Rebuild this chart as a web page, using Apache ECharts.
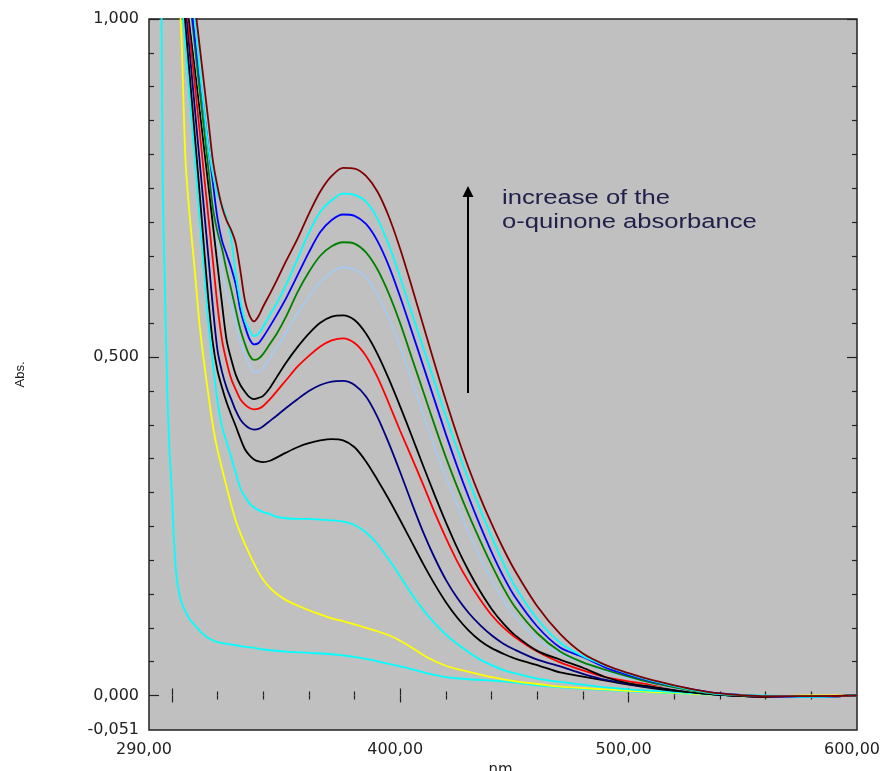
<!DOCTYPE html>
<html><head><meta charset="utf-8">
<script src="https://cdn.jsdelivr.net/npm/echarts@6/dist/echarts.min.js"></script>
<style>html,body{margin:0;padding:0;background:#fff}#c{width:885px;height:771px}</style>
</head><body><div id="c"></div>
<script>
// Wavelength grid (nm) shared by the 11 upper curves
const wavelengths = [294,296,298,300,302,304,306,308,310,312,314,316,318,320,322,324,326,328,330,332,334,336,338,340,343,346,350,355,360,365,370,375,380,385,390,395,400,405,410,415,420,425,430,435,440,445,450,460,470,480,490,500,510,520,530,540,560,580,600];

const absMaroon = [1.49,1.43,1.37,1.313,1.255,1.197,1.139,1.081,1.023,0.965,0.907,0.849,0.79,0.752,0.722,0.702,0.688,0.668,0.628,0.584,0.562,0.553,0.561,0.575,0.594,0.614,0.642,0.675,0.712,0.745,0.768,0.780,0.779,0.768,0.745,0.708,0.660,0.605,0.548,0.491,0.436,0.384,0.336,0.293,0.254,0.218,0.186,0.132,0.091,0.062,0.045,0.033,0.023,0.015,0.008,0.003,-0.001,-0.001,0.000];
const absCyanTop = [1.52,1.46,1.40,1.33,1.26,1.19,1.12,1.06,1.00,0.93,0.87,0.81,0.77,0.74,0.725,0.705,0.675,0.622,0.582,0.554,0.540,0.531,0.535,0.545,0.563,0.580,0.607,0.645,0.684,0.715,0.732,0.742,0.740,0.730,0.705,0.666,0.618,0.566,0.515,0.464,0.413,0.364,0.318,0.275,0.235,0.197,0.163,0.113,0.078,0.058,0.044,0.032,0.022,0.014,0.007,0.002,0.000,-0.002,0.000];
const absBlue = [1.48,1.42,1.36,1.30,1.24,1.17,1.09,1.03,0.975,0.92,0.866,0.81,0.757,0.705,0.672,0.652,0.632,0.607,0.570,0.546,0.527,0.519,0.521,0.530,0.546,0.563,0.587,0.621,0.655,0.685,0.703,0.711,0.709,0.697,0.672,0.635,0.589,0.539,0.488,0.437,0.386,0.338,0.293,0.251,0.212,0.177,0.147,0.102,0.071,0.057,0.041,0.030,0.021,0.014,0.008,0.003,-0.001,-0.002,0.000];
const absGreen = [1.50,1.40,1.33,1.26,1.19,1.13,1.08,1.025,0.963,0.90,0.84,0.778,0.72,0.685,0.66,0.628,0.60,0.57,0.541,0.52,0.503,0.496,0.498,0.505,0.520,0.535,0.560,0.596,0.626,0.650,0.664,0.670,0.668,0.655,0.630,0.594,0.550,0.500,0.450,0.400,0.352,0.308,0.267,0.229,0.193,0.160,0.132,0.092,0.065,0.049,0.038,0.028,0.019,0.012,0.006,0.002,-0.001,-0.001,0.000];
const absLightBlue = [1.45,1.38,1.31,1.24,1.17,1.11,1.06,1.005,0.95,0.894,0.838,0.78,0.727,0.675,0.628,0.594,0.575,0.55,0.522,0.503,0.488,0.478,0.478,0.485,0.499,0.515,0.536,0.565,0.589,0.611,0.626,0.633,0.630,0.618,0.593,0.558,0.515,0.466,0.416,0.368,0.323,0.281,0.241,0.204,0.171,0.142,0.118,0.083,0.062,0.048,0.036,0.026,0.018,0.011,0.006,0.002,-0.001,-0.002,0.000];
const absBlackUpper = [1.40,1.34,1.28,1.22,1.164,1.105,1.047,0.988,0.93,0.871,0.812,0.754,0.695,0.636,0.578,0.525,0.497,0.474,0.459,0.449,0.441,0.438,0.440,0.443,0.455,0.471,0.492,0.515,0.535,0.551,0.560,0.562,0.555,0.535,0.505,0.468,0.427,0.384,0.340,0.297,0.256,0.218,0.184,0.154,0.128,0.107,0.090,0.066,0.053,0.041,0.027,0.018,0.013,0.008,0.004,0.001,-0.002,-0.002,0.000];
const absRed = [1.43,1.365,1.30,1.234,1.168,1.10,1.036,0.97,0.905,0.84,0.773,0.707,0.642,0.576,0.525,0.493,0.468,0.452,0.438,0.430,0.425,0.423,0.424,0.428,0.438,0.450,0.466,0.486,0.502,0.516,0.525,0.528,0.521,0.502,0.471,0.432,0.391,0.352,0.312,0.271,0.233,0.198,0.168,0.142,0.119,0.101,0.087,0.065,0.049,0.037,0.027,0.021,0.016,0.011,0.006,0.002,-0.002,-0.002,0.000];
const absNavy = [1.35,1.29,1.24,1.19,1.14,1.09,1.02,0.944,0.87,0.796,0.722,0.648,0.573,0.51,0.478,0.455,0.438,0.421,0.408,0.400,0.395,0.393,0.394,0.398,0.406,0.414,0.425,0.438,0.450,0.459,0.464,0.465,0.459,0.442,0.412,0.373,0.330,0.285,0.242,0.204,0.171,0.144,0.122,0.104,0.089,0.077,0.068,0.053,0.043,0.032,0.023,0.017,0.012,0.008,0.004,0.001,-0.002,-0.002,0.000];
const absBlackLower = [1.40,1.36,1.30,1.23,1.15,1.073,0.99,0.91,0.83,0.75,0.666,0.585,0.52,0.48,0.455,0.433,0.415,0.398,0.380,0.364,0.355,0.349,0.346,0.345,0.347,0.352,0.359,0.367,0.373,0.377,0.379,0.377,0.367,0.346,0.319,0.290,0.259,0.227,0.195,0.165,0.138,0.115,0.096,0.081,0.070,0.062,0.055,0.045,0.034,0.028,0.022,0.016,0.011,0.007,0.004,0.001,-0.002,-0.002,0.000];
const absCyanMid = [1.40,1.33,1.25,1.18,1.12,1.04,0.96,0.878,0.797,0.715,0.634,0.552,0.49,0.435,0.397,0.375,0.352,0.329,0.306,0.294,0.284,0.278,0.274,0.271,0.268,0.264,0.262,0.261,0.261,0.260,0.259,0.257,0.252,0.241,0.224,0.201,0.176,0.150,0.127,0.107,0.090,0.076,0.064,0.053,0.045,0.038,0.033,0.025,0.020,0.016,0.012,0.009,0.007,0.005,0.003,0.001,-0.001,-0.002,0.000];
const absYellow = [1.60,1.45,1.30,1.18,1.08,0.99,0.79,0.702,0.63,0.553,0.495,0.445,0.398,0.363,0.335,0.308,0.282,0.258,0.240,0.224,0.209,0.195,0.182,0.171,0.159,0.150,0.141,0.133,0.126,0.120,0.114,0.110,0.105,0.100,0.095,0.089,0.081,0.071,0.060,0.051,0.044,0.039,0.035,0.031,0.027,0.024,0.021,0.017,0.013,0.011,0.009,0.007,0.005,0.004,0.002,0.001,-0.001,0.000,0.000];

// Lowest cyan curve has its own, finer wavelength grid at the steep start
const wavelengthsLowCyan = [294,295.5,296,297,298,299,300,301,302,303,304,306,308,310,313,316,320,325,330,335,340,350,360,370,378,385,392,400,406,413,420,430,445,460,470,485,500,515,530,545,560,580,600];
const absLowCyan = [1.6,1.0,0.76,0.60,0.45,0.36,0.30,0.225,0.178,0.155,0.140,0.124,0.112,0.104,0.093,0.085,0.079,0.076,0.073,0.071,0.068,0.065,0.063,0.061,0.058,0.054,0.049,0.043,0.038,0.032,0.027,0.024,0.021,0.015,0.012,0.009,0.006,0.004,0.002,0.000,-0.001,-0.002,0.000];

// Axis ticks and labels
const xLabelValues = [290, 400, 500, 600];
const xMajorTicks = [300, 400, 500];
const xMinorTicks = [320, 340, 360, 380, 420, 440, 460, 480, 520, 540, 560, 580];
const yLabelValues = [-0.051, 0, 0.5, 1.0];
const yMajorTicks = [0, 0.5, 1.0];
const yMinorTicks = [0.05,0.1,0.15,0.2,0.25,0.3,0.35,0.4,0.45,0.55,0.6,0.65,0.7,0.75,0.8,0.85,0.9,0.95];

const X_MIN = 290, X_MAX = 600, Y_MIN = -0.051, Y_MAX = 1.0;

const curves = [
  { name: 'c12', wl: wavelengthsLowCyan, v: absLowCyan, color: '#00ffff' },
  { name: 'c11', wl: wavelengths, v: absYellow, color: '#ffff00' },
  { name: 'c10', wl: wavelengths, v: absCyanMid, color: '#00ffff' },
  { name: 'c9', wl: wavelengths, v: absBlackLower, color: '#000000' },
  { name: 'c8', wl: wavelengths, v: absNavy, color: '#000080' },
  { name: 'c7', wl: wavelengths, v: absRed, color: '#ff0000' },
  { name: 'c6', wl: wavelengths, v: absBlackUpper, color: '#000000' },
  { name: 'c5', wl: wavelengths, v: absLightBlue, color: '#a6caf0' },
  { name: 'c4', wl: wavelengths, v: absGreen, color: '#008000' },
  { name: 'c3', wl: wavelengths, v: absBlue, color: '#0000ff' },
  { name: 'c2', wl: wavelengths, v: absCyanTop, color: '#00ffff' },
  { name: 'c1', wl: wavelengths, v: absMaroon, color: '#800000' }
];

const fmtX = v => v.toFixed(2).replace('.', ',');
const fmtY = v => v.toFixed(3).replace('.', ',');
const labelFont = { fontFamily: 'DejaVu Sans', fontSize: 16, color: '#222' };
const tickLine = { color: '#222', width: 1.2 };

function xAx(grid, pos, ticks, len, labels, extra) {
  return Object.assign({
    type: 'value', gridIndex: grid, position: pos, min: X_MIN, max: X_MAX,
    axisLine: { show: false }, splitLine: { show: false },
    axisTick: { show: true, inside: true, length: len, customValues: ticks, lineStyle: tickLine },
    axisLabel: labels ? Object.assign({ show: true, customValues: labels, formatter: fmtX, margin: 12, padding: [0, 10, 0, 0] }, labelFont) : { show: false }
  }, extra || {});
}
function yAx(grid, pos, ticks, len, labels, extra) {
  return Object.assign({
    type: 'value', gridIndex: grid, position: pos, min: Y_MIN, max: Y_MAX,
    axisLine: { show: false }, splitLine: { show: false },
    axisTick: { show: true, inside: true, length: len, customValues: ticks, lineStyle: tickLine },
    axisLabel: labels ? Object.assign({ show: true, customValues: labels, formatter: fmtY, margin: 10 }, labelFont) : { show: false }
  }, extra || {});
}

const gridRect = { left: 149, right: 28, top: 19, bottom: 41, containLabel: false, outerBoundsMode: 'none' };

const chart = echarts.init(document.getElementById('c'));
chart.setOption({
  animation: false,
  backgroundColor: '#ffffff',
  grid: [
    Object.assign({ show: true, backgroundColor: '#c0c0c0', borderColor: '#222', borderWidth: 1.5 }, gridRect),
    Object.assign({ show: false }, gridRect)
  ],
  xAxis: [
    xAx(0, 'bottom', xMajorTicks, 7, xLabelValues, {
      name: 'nm.', nameLocation: 'middle', nameGap: 30,
      nameTextStyle: { fontFamily: 'DejaVu Sans', fontSize: 15, color: '#222' }
    }),
    xAx(0, 'top', xMajorTicks, 7, null),
    xAx(1, 'bottom', xMinorTicks, 4, null),
    xAx(1, 'top', xMinorTicks, 4, null)
  ],
  yAxis: [
    yAx(0, 'left', yMajorTicks, 10, yLabelValues, {
      name: 'Abs.', nameLocation: 'middle', nameRotate: 90, nameGap: 122,
      nameTextStyle: { fontFamily: 'Liberation Sans', fontSize: 13, color: '#222' }
    }),
    yAx(0, 'right', yMajorTicks, 10, null),
    yAx(1, 'left', yMinorTicks, 5, null),
    yAx(1, 'right', yMinorTicks, 5, null)
  ],
  series: curves.map(c => ({
    type: 'line', name: c.name, xAxisIndex: 0, yAxisIndex: 0,
    data: c.wl.map((w, i) => [w, c.v[i]]),
    showSymbol: false, symbol: 'none', smooth: 0.3, clip: true,
    lineStyle: { color: c.color, width: 1.8 },
    emphasis: { disabled: true }
  })),
  graphic: [
    { type: 'line', shape: { x1: 468, y1: 393, x2: 468, y2: 194 }, style: { stroke: '#000', lineWidth: 2 }, z: 100 },
    { type: 'polygon', shape: { points: [[468, 186], [462.5, 197], [473.5, 197]] }, style: { fill: '#000' }, z: 100 },
    { type: 'text', x: 502, y: 198, scaleX: 1.28, z: 100,
      style: { text: 'increase of the', font: '20px "Liberation Sans", Arial, sans-serif', fill: '#20204a', textAlign: 'left', align: 'left', textVerticalAlign: 'middle', verticalAlign: 'middle' } },
    { type: 'text', x: 502, y: 222, scaleX: 1.28, z: 100,
      style: { text: 'o-quinone absorbance', font: '20px "Liberation Sans", Arial, sans-serif', fill: '#20204a', textAlign: 'left', align: 'left', textVerticalAlign: 'middle', verticalAlign: 'middle' } }
  ]
});
</script>
</body></html>
